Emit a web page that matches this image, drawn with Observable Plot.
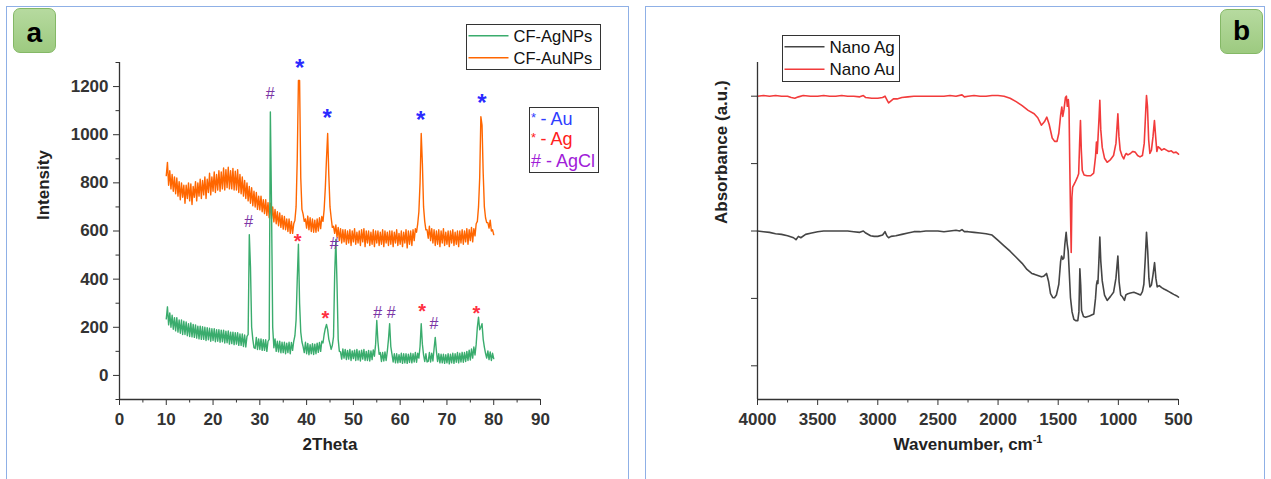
<!DOCTYPE html>
<html><head><meta charset="utf-8">
<script src="https://cdn.jsdelivr.net/npm/d3@7"></script>
<script src="https://cdn.jsdelivr.net/npm/@observablehq/plot@0.6"></script>
<style>
body{margin:0;background:#fff;font-family:"Liberation Sans",Arial,sans-serif;}
#root{position:relative;width:1271px;height:479px;overflow:hidden;background:#fff;}
.panel{position:absolute;border:1px solid #8fb0e6;box-sizing:border-box;}
.tag{position:absolute;border:1px solid #84b866;border-radius:7px;background:linear-gradient(#b6da9f,#9dca80);font-weight:bold;font-size:28px;color:#000;text-align:center;box-sizing:border-box;}
#root svg{position:absolute;top:0;}
</style></head><body>
<div id="root">
  <div class="panel" style="left:6px;top:6px;width:623px;height:480px"></div>
  <div class="panel" style="left:645px;top:6px;width:620px;height:480px"></div>
</div>
<script>
// ---------- Panel a: XRD (2Theta from 10 to 80, step 0.25) ----------
const xrdStart = 10, xrdStep = 0.25;
const cfAgNPs = [
235,285,210,260, 200,250,192,240, 185,240,180,230, 175,230,170,225, 170,222,165,215,
162,218,160,212, 158,210,155,205, 152,205,150,202, 150,200,145,198, 148,196,142,194,
145,194,140,190, 142,190,138,188, 140,188,135,184, 136,185,130,180, 132,180,128,178,
130,178,125,172, 125,172,120,168, 118,162,170,585, 450,200,150,115, 112,158,108,152,
108,152,104,148, 104,148,100,142, 150,1095,700,200, 115,152,100,142, 98,142,94,138,
95,138,90,134, 95,138,90,137, 104,142,165,230, 400,545,300,180, 140,120,95,138,
90,133,86,128, 90,132,87,130, 90,134,96,137, 100,142,135,170, 195,212,190,150,
130,108,125,160, 420,565,380,150, 100,98,68,110, 72,108,66,104, 68,108,62,102,
70,105,62,108, 64,102,60,105, 68,108,62,100, 62,104,60,102, 66,106,80,130,
228,140,88,95, 58,95,60,98, 62,100,150,215, 120,88,56,90, 52,90,52,86,
54,92,50,90, 52,90,50,88, 54,92,52,90, 56,95,55,92, 72,120,215,130,
85,58,90,56, 58,95,56,92, 60,112,158,100, 58,90,52,88, 52,88,50,86,
52,90,48,88, 52,92,50,90, 55,95,52,92, 56,96,55,95, 58,100,62,105,
64,110,72,118, 85,130,200,242, 190,200,215,150, 118,92,72,102, 66,98,62,92,
70];
const cfAuNPs = [
830,885,790,850, 775,835,765,825, 755,820,745,805, 730,800,740,790, 715,790,735,800,
725,795,710,785, 740,805,725,800, 745,815,735,810, 750,825,735,815, 760,840,750,825,
765,845,760,835, 770,850,765,845, 775,862,770,855, 780,865,775,850, 775,860,770,848,
770,855,760,835, 755,825,745,810, 735,800,725,785, 715,780,705,765, 700,760,690,745,
688,745,680,730, 672,730,665,718, 655,715,650,700, 638,690,630,680, 622,675,615,665,
608,660,605,650, 598,650,590,640, 590,630,645,700, 900,1225,1225,820, 690,670,640,650,
612,662,605,655, 598,650,595,645, 595,650,600,655, 610,660,640,690, 780,900,1005,830,
700,655,615,620, 590,625,575,615, 560,610,550,605, 555,605,545,600, 550,605,540,600,
555,610,545,595, 550,600,540,605, 555,610,535,600, 550,600,540,595, 545,605,535,600,
550,600,540,595, 545,605,535,600, 550,595,540,600, 545,600,535,595, 550,605,540,590,
545,600,535,595, 550,605,530,600, 545,600,540,605, 560,610,595,630, 680,800,1005,880,
700,640,605,605, 570,620,560,610, 550,605,540,600, 545,605,535,600, 550,610,540,595,
545,600,535,600, 550,605,540,595, 545,600,535,600, 550,605,545,600, 555,610,545,605,
560,615,555,610, 580,630,640,700, 820,1075,1040,840, 700,655,635,635, 612,645,600,605,
585];
const xrdSeries = ["CF-AgNPs", "CF-AuNPs"];
const xrdColors = ["#3aac6d", "#ff6600"];
// peak markers
const auMarkX = [38.5, 44.4, 64.4, 77.5];
const auMarkY = [1302, 1095, 1083, 1157];
const agMarkX = [38.1, 44.0, 64.7, 76.3];
const agMarkY = [578, 258, 286, 277];
const agclMarkX = [27.6, 32.2, 45.9, 55.2, 58.1, 67.2];
const agclMarkY = [636, 1168, 546, 260, 260, 214];
const xTicksA = [0,10,20,30,40,50,60,70,80,90];
const xMinorA = [5,15,25,35,45,55,65,75,85];
const yTicksA = [0,200,400,600,800,1000,1200];
const yMinorA = [-100,100,300,500,700,900,1100,1300];

// ---------- Panel b: FTIR ----------
const nanoAu = [
[4000,5.00],[3950,5.01],[3900,5.00],[3850,5.01],[3800,5.00],[3750,5.00],[3720,4.98],[3690,4.97],[3660,4.99],[3620,5.01],
[3560,5.00],[3500,5.00],[3450,5.01],[3400,5.00],[3350,5.00],[3300,5.01],[3250,5.00],[3200,5.00],[3150,4.99],[3120,5.01],
[3100,4.98],[3050,4.97],[3000,4.97],[2960,4.98],[2940,5.00],[2925,4.95],[2910,4.90],[2890,4.93],[2870,4.96],[2840,4.96],
[2800,4.98],[2750,4.99],[2700,5.00],[2600,5.00],[2500,5.00],[2450,5.00],[2400,5.01],[2350,5.00],[2300,5.02],[2280,4.99],
[2250,5.00],[2200,5.01],[2150,5.00],[2100,5.00],[2050,5.01],[2000,5.01],[1950,5.00],[1900,4.97],[1850,4.92],[1800,4.86],
[1750,4.79],[1700,4.74],[1670,4.68],[1640,4.57],[1615,4.62],[1595,4.69],[1575,4.58],[1550,4.38],[1530,4.33],[1510,4.33],
[1495,4.45],[1480,4.72],[1470,4.84],[1462,4.70],[1452,4.80],[1440,4.98],[1432,5.00],[1424,4.85],[1416,4.95],[1410,4.80],
[1404,4.00],[1398,3.30],[1392,2.68],[1386,3.50],[1380,3.65],[1360,3.72],[1340,3.80],[1330,3.85],[1322,4.30],[1315,4.64],
[1308,4.20],[1300,3.90],[1285,3.83],[1260,3.82],[1230,3.82],[1205,3.86],[1190,4.10],[1182,4.32],[1176,4.15],[1170,4.35],
[1160,4.70],[1154,4.94],[1146,4.50],[1134,4.24],[1115,4.08],[1093,4.02],[1065,4.06],[1040,4.12],[1020,4.30],[1004,4.74],
[995,4.40],[985,4.20],[970,4.12],[955,4.07],[945,4.12],[935,4.15],[920,4.13],[900,4.15],[880,4.18],[860,4.17],
[840,4.12],[820,4.10],[800,4.12],[785,4.30],[772,4.80],[766,5.01],[758,4.85],[748,4.35],[738,4.15],[725,4.20],
[712,4.40],[700,4.64],[690,4.40],[680,4.18],[670,4.25],[655,4.23],[640,4.20],[620,4.22],[600,4.20],[580,4.18],
[560,4.19],[540,4.16],[520,4.17],[500,4.14]];
const nanoAg = [
[4000,3.00],[3950,2.99],[3900,2.98],[3850,2.96],[3800,2.95],[3750,2.93],[3700,2.90],[3680,2.87],[3660,2.92],[3640,2.90],
[3600,2.95],[3550,2.97],[3500,2.99],[3450,3.00],[3400,3.00],[3350,3.00],[3300,3.00],[3250,3.00],[3200,2.99],[3150,2.98],
[3120,3.00],[3100,2.97],[3060,2.93],[3030,2.92],[3000,2.92],[2960,2.94],[2940,2.99],[2925,2.93],[2910,2.90],[2890,2.92],
[2850,2.93],[2800,2.95],[2750,2.97],[2700,2.99],[2650,2.99],[2600,3.00],[2550,3.00],[2500,3.00],[2450,2.99],[2400,3.00],
[2350,3.01],[2320,3.00],[2300,3.02],[2280,2.99],[2250,2.99],[2200,2.98],[2150,2.97],[2100,2.96],[2050,2.94],[2000,2.86],
[1950,2.78],[1900,2.70],[1850,2.61],[1800,2.52],[1760,2.43],[1720,2.37],[1700,2.36],[1670,2.34],[1640,2.32],[1620,2.33],
[1597,2.37],[1580,2.25],[1564,2.07],[1545,2.01],[1531,2.01],[1515,2.05],[1495,2.21],[1480,2.55],[1472,2.63],[1462,2.58],
[1453,2.60],[1445,2.80],[1434,2.98],[1425,2.80],[1417,2.70],[1410,2.45],[1398,2.01],[1385,1.80],[1370,1.69],[1355,1.67],
[1337,1.67],[1328,1.80],[1320,2.44],[1313,2.20],[1306,1.82],[1290,1.73],[1273,1.72],[1240,1.74],[1204,1.77],[1190,2.00],
[1182,2.20],[1176,2.26],[1170,2.22],[1162,2.55],[1154,2.91],[1146,2.55],[1134,2.26],[1115,2.05],[1093,1.97],[1065,2.03],
[1040,2.09],[1020,2.30],[1004,2.63],[994,2.25],[981,2.05],[965,2.02],[949,1.97],[938,2.05],[920,2.07],[900,2.08],
[871,2.09],[840,2.07],[816,2.05],[800,2.10],[788,2.21],[776,2.60],[766,2.98],[756,2.70],[746,2.30],[738,2.17],
[725,2.20],[712,2.35],[699,2.53],[688,2.30],[677,2.17],[660,2.19],[640,2.16],[621,2.14],[600,2.12],[580,2.10],
[560,2.08],[540,2.06],[517,2.04],[500,2.02]];
const ftirSeries = ["Nano Ag", "Nano Au"];
const ftirColors = ["#454545", "#f23b3b"];
const xTicksB = [4000,3500,3000,2500,2000,1500,1000,500];
const xMinorB = [3750,3250,2750,2250,1750,1250,750];
const yTicksB = [1,2,3,4,5];

const FONT = '"Liberation Sans", Arial, sans-serif';
const AX = "#333";

// ---------- build panel a ----------
const xrd = cfAgNPs.map((v, i) => ({t: xrdStart + i * xrdStep, ag: v, au: cfAuNPs[i]}));
const marks = (xs, ys, sym) => xs.map((x, i) => ({x, y: ys[i], s: sym}));
const svgA = Plot.plot({
  width: 636, height: 479,
  marginLeft: 119, marginRight: 96, marginTop: 62, marginBottom: 80,
  x: {domain: [0, 90]},
  y: {domain: [-100, 1300]},
  style: {fontFamily: FONT, fontSize: "17px", fontWeight: "bold", background: "transparent", color: AX},
  marks: [
    Plot.line(xrd, {x: "t", y: "au", stroke: xrdColors[1], strokeWidth: 1.4}),
    Plot.line(xrd, {x: "t", y: "ag", stroke: xrdColors[0], strokeWidth: 1.4}),
    Plot.ruleX([0], {stroke: AX, strokeWidth: 1.3}),
    Plot.ruleY([-100], {stroke: AX, strokeWidth: 1.3}),
    Plot.axisY({ticks: yTicksA, tickSize: 6, tickPadding: 5, label: null, tickFormat: d => String(d)}),
    Plot.axisY({ticks: yMinorA, tickSize: 3.5, label: null, tickFormat: () => ""}),
    Plot.axisX({ticks: xTicksA, tickSize: 6, tickPadding: 7, label: null, tickFormat: d => String(d)}),
    Plot.axisX({ticks: xMinorA, tickSize: 3.5, label: null, tickFormat: () => ""}),
    Plot.text(marks(auMarkX, auMarkY, "*"), {x: "x", y: "y", text: "s", fill: "#2b2bff", fontSize: 24, fontWeight: "bold", dy: 6}),
    Plot.text(marks(agMarkX, agMarkY, "*"), {x: "x", y: "y", text: "s", fill: "#ff3042", fontSize: 20, fontWeight: "bold", dy: 5}),
    Plot.text(marks(agclMarkX, agclMarkY, "#"), {x: "x", y: "y", text: "s", fill: "#7b35a5", fontSize: 16, fontWeight: "normal"}),
    Plot.text(["Intensity"], {text: d => d, frameAnchor: "left", dx: -76, dy: -11, rotate: -90, fontSize: 17, fill: "#222"}),
    Plot.text(["2Theta"], {text: d => d, frameAnchor: "bottom", dy: 50, fontSize: 17, fill: "#222"})
  ]
});
svgA.style.left = "0px";
document.getElementById("root").appendChild(svgA);

// ---------- build panel b ----------
const ftir = [
  ...nanoAg.map(([w, a]) => ({w, a, s: ftirSeries[0]})),
  ...nanoAu.map(([w, a]) => ({w, a, s: ftirSeries[1]}))
];
const svgB = Plot.plot({
  width: 626, height: 479,
  marginLeft: 112, marginRight: 93, marginTop: 62, marginBottom: 80,
  x: {domain: [4000, 500]},
  y: {domain: [0.5, 5.5]},
  color: {domain: ftirSeries, range: ftirColors},
  style: {fontFamily: FONT, fontSize: "17px", fontWeight: "bold", background: "transparent", color: AX},
  marks: [
    Plot.line(ftir, {x: "w", y: "a", z: "s", stroke: "s", strokeWidth: 1.6}),
    Plot.ruleX([4000], {stroke: AX, strokeWidth: 1.3}),
    Plot.ruleY([0.5], {stroke: AX, strokeWidth: 1.3}),
    Plot.axisY({ticks: yTicksB, tickSize: 6, label: null, tickFormat: () => ""}),
    Plot.axisX({ticks: xTicksB, tickSize: 6, tickPadding: 7, label: null, tickFormat: d => String(d)}),
    Plot.axisX({ticks: xMinorB, tickSize: 3.5, label: null, tickFormat: () => ""}),
    Plot.text(["Absorbance (a.u.)"], {text: d => d, frameAnchor: "left", dx: -36, dy: -7, rotate: -90, fontSize: 17, fill: "#222"}),
    Plot.text(["Wavenumber, cm"], {text: d => d, frameAnchor: "bottom", dy: 50, fontSize: 17, fill: "#222"})
  ]
});
svgB.style.left = "645px";
document.getElementById("root").appendChild(svgB);
d3.select(svgB).selectAll("text").filter(function() { return this.textContent === "Wavenumber, cm"; })
  .append("tspan").attr("dy", "-0.55em").attr("font-size", "11px").text("-1");

// ---------- legends ----------
function legendLines(svg, ox, box, ys, labels, colors, fs) {
  const g = d3.select(svg).append("g").attr("font-family", FONT).attr("font-weight", "normal").attr("text-anchor", "start");
  g.append("rect").attr("x", box[0] - ox).attr("y", box[1]).attr("width", box[2]).attr("height", box[3])
    .attr("fill", "#fff").attr("stroke", "#333").attr("stroke-width", 1);
  labels.forEach((lab, i) => {
    g.append("line").attr("x1", box[0] - ox + 2).attr("x2", box[0] - ox + 42).attr("y1", ys[i]).attr("y2", ys[i])
      .attr("stroke", colors[i]).attr("stroke-width", 1.6);
    g.append("text").attr("x", box[0] - ox + 47).attr("y", ys[i] + 6).attr("font-size", fs).attr("fill", "#111").text(lab);
  });
}
legendLines(svgA, 0, [466.5, 24.5, 134, 45], [35.7, 57.7], xrdSeries, xrdColors, 16.5);
legendLines(svgB, 645, [782.5, 35.5, 117, 46], [46.7, 69.3], ftirSeries, ftirColors, 17);

const phaseLabels = ["- Au", "- Ag", "# - AgCl"];
const phaseColors = ["#2f3dff", "#ff2020", "#a020d8"];
const gP = d3.select(svgA).append("g").attr("font-family", FONT).attr("font-weight", "normal").attr("text-anchor", "start");
gP.append("rect").attr("x", 529.5).attr("y", 107.5).attr("width", 69).attr("height", 65).attr("fill", "#fff").attr("stroke", "#333");
[125, 145].forEach((b, i) => {
  gP.append("text").attr("x", 531).attr("y", b - 3).attr("font-size", 13).attr("fill", phaseColors[i]).text("*");
  gP.append("text").attr("x", 540.5).attr("y", b).attr("font-size", 18).attr("fill", phaseColors[i]).text(phaseLabels[i]);
});
gP.append("text").attr("x", 531).attr("y", 166.7).attr("font-size", 18).attr("fill", phaseColors[2]).text(phaseLabels[2]);

// ---------- panel tags ----------
const root = document.getElementById("root");
[["a", 12.7, 8.3, 47], ["b", 1220, 9.3, 41]].forEach(([t, l, top, lh]) => {
  const d = document.createElement("div");
  d.className = "tag"; d.textContent = t;
  d.style.left = l + "px"; d.style.top = top + "px"; d.style.width = "43px"; d.style.height = "45px"; d.style.lineHeight = lh + "px";
  root.appendChild(d);
});
</script>
</body></html>
